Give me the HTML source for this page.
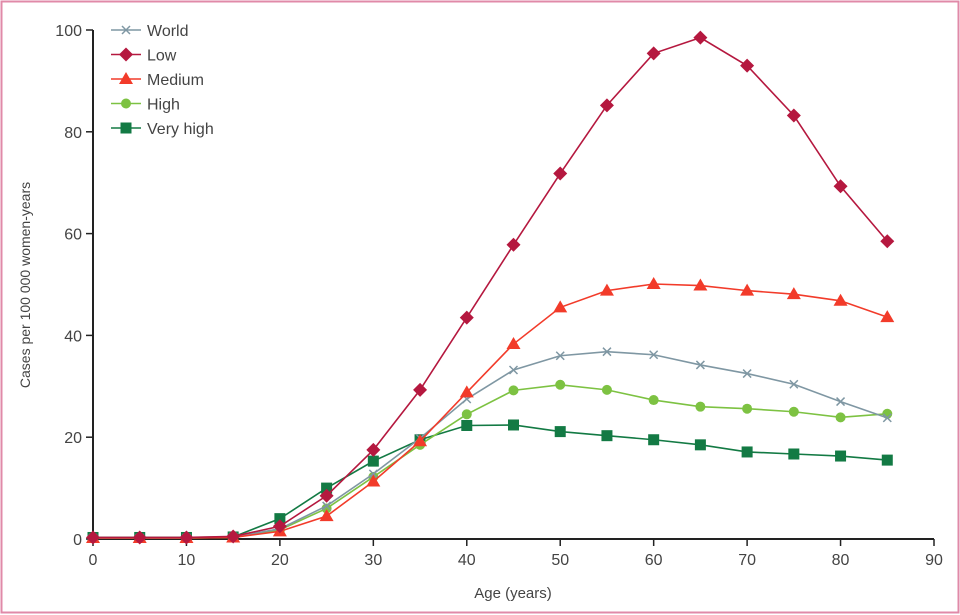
<!DOCTYPE html>
<html><head><meta charset="utf-8"><style>
html,body{margin:0;padding:0;background:#fff}
svg{display:block;font-family:"Liberation Sans",sans-serif}
</style></head><body>
<svg id="chart" width="960" height="615" viewBox="0 0 960 615" xmlns="http://www.w3.org/2000/svg">
<rect x="1.5" y="1.5" width="957" height="611" fill="#fff" stroke="#e08aa8" stroke-width="2"/>
<g id="axes"></g><g id="series"></g><g id="legend"></g>
</svg>
<script>
const ages=[0,5,10,15,20,25,30,35,40,45,50,55,60,65,70,75,80,85];
const worldVals=[0.2,0.2,0.2,0.4,2,6.5,12.8,19.8,27.5,33.2,36,36.8,36.2,34.2,32.5,30.4,27,23.8];
const lowVals=[0.3,0.3,0.3,0.5,2.5,8.5,17.5,29.3,43.5,57.8,71.8,85.2,95.4,98.5,93,83.2,69.3,58.5];
const mediumVals=[0.2,0.2,0.2,0.3,1.5,4.5,11.3,19.2,28.8,38.3,45.5,48.8,50.1,49.8,48.8,48.1,46.8,43.6];
const highVals=[0.2,0.2,0.2,0.3,1.8,6,12.2,18.5,24.5,29.2,30.3,29.3,27.3,26,25.6,25,23.9,24.6];
const veryHighVals=[0.3,0.3,0.3,0.4,4,10,15.3,19.5,22.3,22.4,21.1,20.3,19.5,18.5,17.1,16.7,16.3,15.5];
const xTicks=[0,10,20,30,40,50,60,70,80,90];
const yTicks=[0,20,40,60,80,100];
const seriesNames=["World","Low","Medium","High","Very high"];

const NS="http://www.w3.org/2000/svg";
const X0=93,X1=934,Y0=539,Y1=30;
const x=v=>X0+(v/90)*(X1-X0);
const y=v=>Y0-(v/100)*(Y0-Y1);
function mk(tag,attrs,parent){const e=document.createElementNS(NS,tag);for(const k in attrs)e.setAttribute(k,attrs[k]);parent.appendChild(e);return e;}
const axes=document.getElementById('axes');
let e=mk('line',{x1:X0,y1:Y1,x2:X0,y2:Y0,stroke:'#222','stroke-width':2},axes);


e=mk('line',{x1:X0,y1:Y0,x2:X1,y2:Y0,stroke:'#222','stroke-width':2},axes);


xTicks.forEach(t=>{
 const l=mk('line',{x1:x(t),y1:Y0,x2:x(t),y2:Y0+7,stroke:'#222','stroke-width':1.5},axes);
 
 
 const tx=mk('text',{x:x(t),y:Y0+26,'text-anchor':'middle','font-size':16,fill:'#444'},axes);
 tx.textContent=t;
 
 
});
yTicks.forEach(t=>{
 const l=mk('line',{x1:X0-7,y1:y(t),x2:X0,y2:y(t),stroke:'#222','stroke-width':1.5},axes);
 
 
 const tx=mk('text',{x:X0-11,y:y(t)+6,'text-anchor':'end','font-size':16,fill:'#444'},axes);
 tx.textContent=t;
 
 
});
let t=mk('text',{x:513,y:598,'text-anchor':'middle','font-size':15,fill:'#444'},axes);
t.textContent='Age (years)';


t=mk('text',{x:0,y:0,'text-anchor':'middle','font-size':14,fill:'#444',transform:'translate(30,285) rotate(-90)'},axes);
t.textContent='Cases per 100 000 women-years';



const cols=["#7f97a3","#b5183f","#f23b2a","#7dc242","#137a44"];
const shapes=["x","diamond","triangle","circle","square"];
const data=[worldVals,lowVals,mediumVals,highVals,veryHighVals];
function marker(shape,cx,cy,c,g){
 let m;
 if(shape==='x'){m=mk('path',{d:`M${cx-4} ${cy-4}L${cx+4} ${cy+4}M${cx-4} ${cy+4}L${cx+4} ${cy-4}`,stroke:c,'stroke-width':1.5,fill:'none'},g);}
 else if(shape==='diamond'){m=mk('path',{d:`M${cx} ${cy-7}L${cx+7} ${cy}L${cx} ${cy+7}L${cx-7} ${cy}Z`,fill:c},g);}
 else if(shape==='triangle'){m=mk('path',{d:`M${cx} ${cy-7}L${cx+7} ${cy+5}L${cx-7} ${cy+5}Z`,fill:c},g);}
 else if(shape==='circle'){m=mk('circle',{cx:cx,cy:cy,r:5,fill:c},g);}
 else {m=mk('rect',{x:cx-5.5,y:cy-5.5,width:11,height:11,fill:c},g);}
 return m;
}
const sg=document.getElementById('series');
[4,3,0,2,1].forEach(i=>{
 const g=mk('g',{},sg);
 
 
 const pl=mk('polyline',{points:ages.map((a,j)=>x(a)+','+y(data[i][j])).join(' '),fill:'none',stroke:cols[i],'stroke-width':1.6},g);
 
 
 ages.forEach((a,j)=>{
  const m=marker(shapes[i],x(a),y(data[i][j]),cols[i],g);
  
  
 });
});
const lg=document.getElementById('legend');
seriesNames.forEach((n,i)=>{
 const cy=30+i*24.5;
 const g=mk('g',{},lg);
 
 
 mk('line',{x1:111,y1:cy,x2:141,y2:cy,stroke:cols[i],'stroke-width':1.6},g);
 marker(shapes[i],126,cy,cols[i],g);
 const tx=mk('text',{x:147,y:cy+6,'font-size':16,fill:'#444'},g);
 tx.textContent=n;
});
</script>
</body></html>
